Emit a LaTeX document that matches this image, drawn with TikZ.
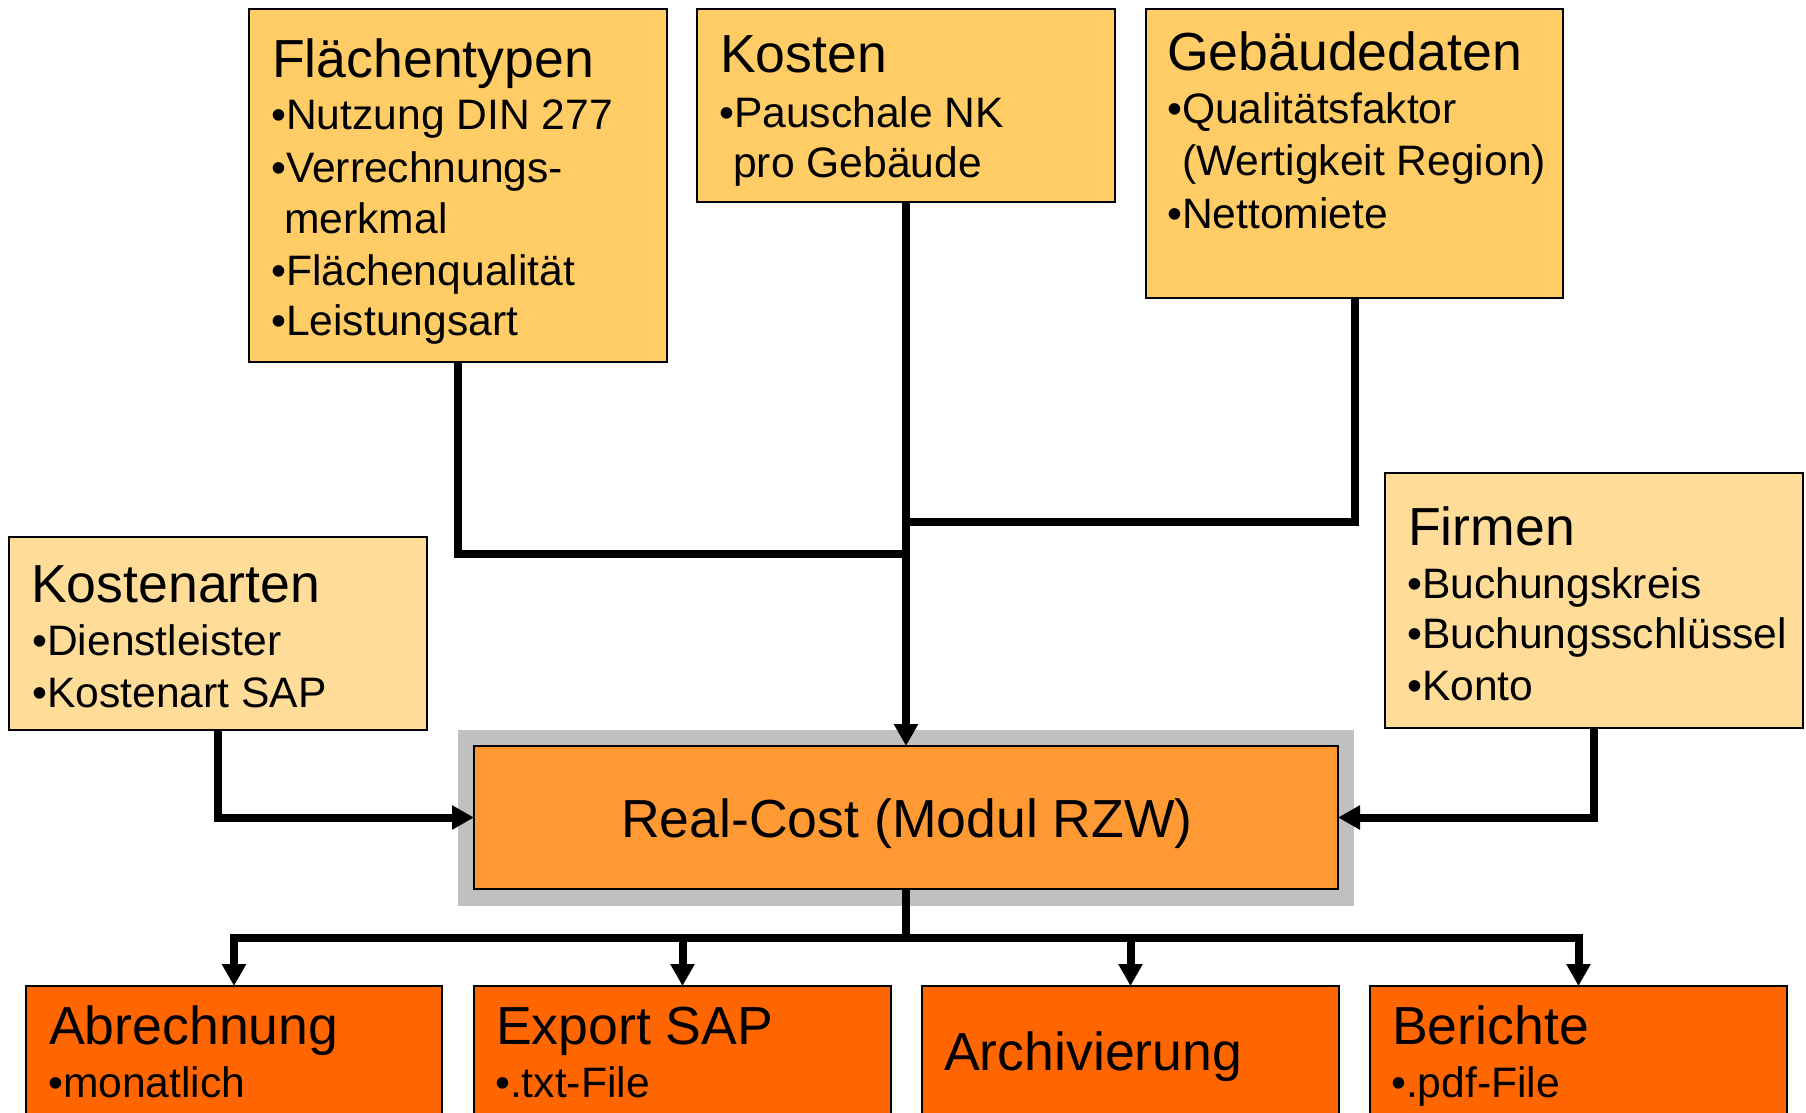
\documentclass[tikz,border=0pt]{standalone}
\usepackage{fontspec}
\setmainfont{Liberation Sans}
\usetikzlibrary{arrows.meta}
\definecolor{topfill}{HTML}{FFCC66}
\definecolor{sidefill}{HTML}{FFDD99}
\definecolor{midfill}{HTML}{FF9933}
\definecolor{botfill}{HTML}{FF6600}
\definecolor{framegray}{HTML}{C0C0C0}
\begin{document}
\begin{tikzpicture}[x=1pt,y=-1pt,
  box/.style={draw=black,line width=2.5pt,inner sep=0pt,outer sep=0pt,anchor=north west},
  head/.style={anchor=base west,inner sep=0pt,font=\fontsize{53.6}{60}\selectfont},
  item/.style={anchor=base west,inner sep=0pt,font=\fontsize{42.6}{50}\selectfont},
  conn/.style={line width=8pt},
  arr/.style={conn,-{Triangle[length=22pt,width=23pt]}}]
\clip (0,0) rectangle (1806,1113);
\fill[white] (0,0) rectangle (1806,1113);
% boxes
\node[box,fill=topfill,minimum width=418pt,minimum height=353pt] (ft) at (249,9) {};
\node[box,fill=topfill,minimum width=418pt,minimum height=193pt] (ko) at (697,9) {};
\node[box,fill=topfill,minimum width=417pt,minimum height=289pt] (gd) at (1146,9) {};
\node[box,fill=sidefill,minimum width=418pt,minimum height=193pt] (ka) at (9,537) {};
\node[box,fill=sidefill,minimum width=418pt,minimum height=255pt] (fi) at (1385,473) {};
\node[anchor=north west,fill=framegray,inner sep=0pt,outer sep=0pt,minimum width=896pt,minimum height=176pt] (frame) at (458,730) {};
\node[box,fill=midfill,minimum width=864pt,minimum height=143pt] (rc) at (474,746) {};
\node[box,fill=botfill,minimum width=416pt,minimum height=160pt] (ab) at (26,986) {};
\node[box,fill=botfill,minimum width=417pt,minimum height=160pt] (ex) at (474,986) {};
\node[box,fill=botfill,minimum width=417pt,minimum height=160pt] (ar) at (922,986) {};
\node[box,fill=botfill,minimum width=417pt,minimum height=160pt] (be) at (1370,986) {};
% texts
\node[head] (ft0) at (272,78) {Flächentypen};
\node[item] (ft1) at (271,130) {•Nutzung DIN 277};
\node[item] (ft2) at (271,182) {•Verrechnungs-};
\node[item] (ft3) at (284,233) {merkmal};
\node[item] (ft4) at (271,285) {•Flächenqualität};
\node[item] (ft5) at (271,335) {•Leistungsart};
\node[head] (ko0) at (720,73) {Kosten};
\node[item] (ko1) at (719,128) {•Pauschale NK};
\node[item] (ko2) at (733,177) {pro Gebäude};
\node[head] (gd0) at (1167,71) {Gebäudedaten};
\node[item] (gd1) at (1167,124) {•Qualitätsfaktor};
\node[item] (gd2) at (1182,175) {(Wertigkeit Region)};
\node[item] (gd3) at (1167,228) {•Nettomiete};
\node[head] (ka0) at (31,602) {Kostenarten};
\node[item] (ka1) at (32,655) {•Dienstleister};
\node[item] (ka2) at (32,707) {•Kostenart SAP};
\node[head] (fi0) at (1408,545) {Firmen};
\node[item] (fi1) at (1407,598) {•Buchungskreis};
\node[item] (fi2) at (1407,648) {•Buchungsschlüssel};
\node[item] (fi3) at (1407,700) {•Konto};
\node[head,anchor=base] (rc0) at (907,837) {Real-Cost (Modul RZW)};
\node[head] (ab0) at (49,1044) {Abrechnung};
\node[item] (ab1) at (48,1097) {•monatlich};
\node[head] (ex0) at (496,1044) {Export SAP};
\node[item] (ex1) at (495,1097) {•.txt-File};
\node[head] (ar0) at (944,1070) {Archivierung};
\node[head] (be0) at (1392,1044) {Berichte};
\node[item] (be1) at (1391,1097) {•.pdf-File};
% connectors
\coordinate (j1) at (906,554);
\coordinate (j2) at (906,522);
\coordinate (bus) at (906,938);
\draw[conn] (ft.south) |- (j1);
\draw[conn] (gd.south) |- (j2);
\draw[arr] (ko.south) -- (rc.north);
\draw[arr] (ka.south) |- (rc.west);
\draw[arr] (fi.south) |- (rc.east);
\draw[conn] (rc.south) -- (bus);
\draw[arr] (bus) -| (ab.north);
\draw[arr] (bus) -| (be.north);
\draw[arr] (ex.north |- bus) -- (ex.north);
\draw[arr] (ar.north |- bus) -- (ar.north);
\end{tikzpicture}
\end{document}
